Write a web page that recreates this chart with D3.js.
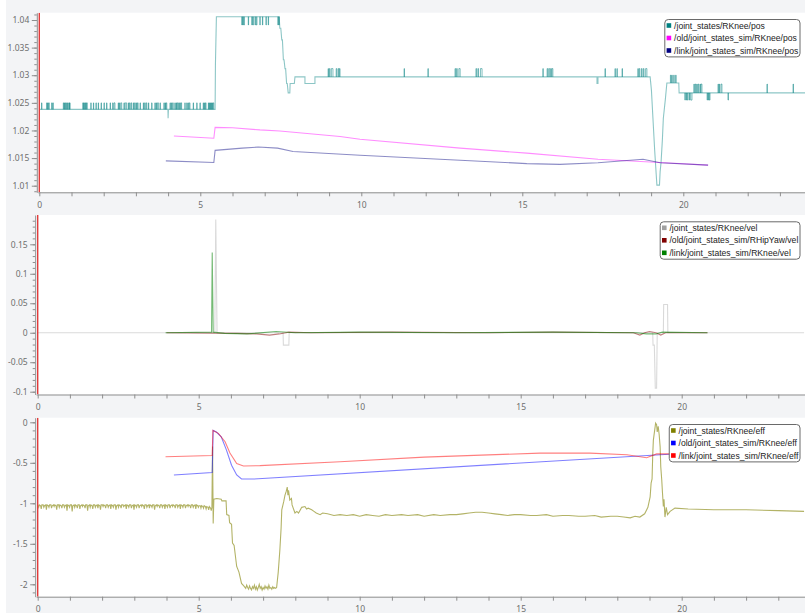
<!DOCTYPE html>
<html>
<head>
<meta charset="utf-8">
<script src="https://cdn.jsdelivr.net/npm/d3@7"></script>
<style>
  html, body { margin: 0; padding: 0; background: #fff; }
  svg { display: block; }
</style>
</head>
<body>
<div id="wrapper"></div>
<script>
// ---- data (t in s) ----
const timeTicks = [0, 5, 10, 15, 20];
const posTicks = [1.01, 1.015, 1.02, 1.025, 1.03, 1.035, 1.04];
const velTicks = [-0.1, -0.05, 0, 0.05, 0.1, 0.15];
const effTicks = [-2, -1.5, -1, -0.5, 0];

const posNames = ["/joint_states/RKnee/pos", "/old/joint_states_sim/RKnee/pos", "/link/joint_states_sim/RKnee/pos"];
const velNames = ["/joint_states/RKnee/vel", "/old/joint_states_sim/RHipYaw/vel", "/link/joint_states_sim/RKnee/vel"];
const effNames = ["/joint_states/RKnee/eff", "/old/joint_states_sim/RKnee/eff", "/link/joint_states_sim/RKnee/eff"];

const posColors = ["#008080", "#ff00ff", "#000080"];
const velColors = ["#a0a0a0", "#800000", "#008000"];
const effColors = ["#808000", "#0000ff", "#ff0000"];

// /joint_states/RKnee/pos main trace
const jsPos = [
  [0, 1.02382], [3.995, 1.02382], [4.0, 1.0222], [4.01, 1.02382], [5.46, 1.02382], [5.47, 1.032], [5.5, 1.0406],
  [7.45, 1.0406], [7.47, 1.0385], [7.5, 1.0385], [7.53, 1.0364], [7.55, 1.0364], [7.58, 1.0328], [7.6, 1.0328],
  [7.63, 1.0312], [7.65, 1.0312], [7.68, 1.0285], [7.7, 1.0285], [7.73, 1.0268], [7.78, 1.0268], [7.79, 1.0285],
  [7.92, 1.0285], [7.94, 1.0297], [8.25, 1.0297], [8.25, 1.0285], [8.56, 1.0285], [8.56, 1.0297],
  [17.32, 1.0297], [17.32, 1.0285], [17.35, 1.0285], [17.35, 1.0297], [18.97, 1.0297],
  [19.01, 1.0273], [19.06, 1.0219], [19.11, 1.0165], [19.16, 1.0119], [19.18, 1.0101], [19.26, 1.0101],
  [19.28, 1.0125], [19.31, 1.0143], [19.35, 1.0183], [19.38, 1.0222], [19.44, 1.0255], [19.49, 1.0286],
  [19.86, 1.0286], [19.87, 1.0268], [23.8, 1.0268]
];
// quick toggles of the encoder reading: [start, end]
const flickLowLevels = [1.02382, 1.025];
const flickLow = [
  [0.07, 0.08], [0.23, 0.24], [0.26, 0.27], [0.29, 0.31], [0.385, 0.395], [0.42, 0.435],
  [0.745, 0.76], [0.78, 0.79], [0.81, 0.825], [0.85, 0.86], [0.88, 0.895], [0.92, 0.935], [0.945, 0.955],
  [1.35, 1.365], [1.38, 1.39], [1.41, 1.425], [1.44, 1.455], [1.47, 1.49],
  [1.6, 1.61], [1.68, 1.69], [1.76, 1.77], [1.83, 1.84], [1.92, 1.93], [2.01, 2.02], [2.09, 2.1], [2.2, 2.21],
  [2.28, 2.29], [2.32, 2.35], [2.45, 2.46], [2.49, 2.5], [2.53, 2.56], [2.63, 2.64], [2.67, 2.71],
  [2.76, 2.77], [2.8, 2.82], [2.85, 2.87], [2.92, 2.93], [2.96, 2.98], [3.01, 3.02], [3.05, 3.07],
  [3.13, 3.14], [3.23, 3.24], [3.27, 3.29], [3.32, 3.34], [3.39, 3.4], [3.49, 3.5],
  [3.59, 3.6], [3.63, 3.64], [3.67, 3.7], [3.75, 3.76], [3.87, 3.88], [3.91, 3.92], [3.94, 3.96],
  [4.06, 4.07], [4.1, 4.11], [4.14, 4.16], [4.21, 4.22], [4.25, 4.26], [4.28, 4.3], [4.33, 4.34],
  [4.36, 4.38], [4.4, 4.42], [4.52, 4.53], [4.58, 4.59], [4.62, 4.63], [4.66, 4.68], [4.78, 4.79],
  [4.89, 4.9], [4.99, 5.0], [5.09, 5.1], [5.13, 5.14], [5.16, 5.18], [5.25, 5.26], [5.28, 5.29],
  [5.31, 5.32], [5.34, 5.35], [5.37, 5.38], [5.4, 5.42]
];
const flickHighLevels = [1.0406, 1.0391];
const flickHigh = [
  [6.29, 6.3], [6.32, 6.33], [6.35, 6.37], [6.49, 6.5], [6.6, 6.61], [6.63, 6.65], [6.7, 6.71],
  [6.74, 6.76], [6.85, 6.86], [6.93, 6.94], [7.04, 7.05], [7.11, 7.12], [7.41, 7.42], [7.44, 7.45]
];
const flickMidLevels = [1.0297, 1.0312];
const flickMid = [
  [8.97, 8.98], [9.01, 9.03], [9.07, 9.12], [9.22, 9.24], [9.28, 9.3], [9.32, 9.34],
  [11.33, 11.34], [12.07, 12.08], [12.91, 12.93], [12.96, 12.98], [13.03, 13.07],
  [13.56, 13.58], [13.62, 13.64], [13.7, 13.75], [15.64, 15.65], [15.77, 15.79], [15.82, 15.85],
  [15.88, 15.9], [15.92, 15.95], [17.57, 17.58], [17.88, 17.89], [17.94, 17.95], [18.1, 18.11],
  [18.59, 18.6], [18.63, 18.65], [18.7, 18.72], [18.76, 18.78], [18.83, 18.87]
];
const flickPostLevels = [1.0286, 1.03];
const flickPost = [[19.6, 19.62], [19.64, 19.66], [19.7, 19.72], [19.76, 19.78]];
const flickRightUpLevels = [1.0268, 1.0284];
const flickRightUp = [
  [20.33, 20.34], [20.37, 20.39], [20.42, 20.43], [20.46, 20.48], [20.52, 20.53], [20.55, 20.58],
  [21.08, 21.09], [21.12, 21.13], [21.17, 21.2], [22.6, 22.61], [23.41, 23.42]
];
const flickRightDownLevels = [1.0268, 1.0255];
const flickRightDown = [
  [20.05, 20.06], [20.09, 20.1], [20.13, 20.15], [20.19, 20.2], [20.23, 20.27],
  [20.74, 20.75], [20.78, 20.79], [20.81, 20.83], [21.39, 21.4]
];

const oldPos = [
  [4.18, 1.019], [5.42, 1.0186], [5.46, 1.02056], [6.0, 1.0205], [6.85, 1.0201], [7.47, 1.0199],
  [9.34, 1.0189], [9.96, 1.0184], [13.07, 1.0168], [15.14, 1.0159], [17.35, 1.0148], [18.97, 1.0143], [20.77, 1.01373]
];
const linkPos = [
  [3.93, 1.0145], [5.42, 1.0142], [5.46, 1.0164], [6.3, 1.0168], [6.8, 1.017], [7.4, 1.0168], [7.88, 1.0162],
  [9.96, 1.0155], [13.07, 1.0146], [15.14, 1.014], [16.17, 1.01386], [17.35, 1.01415], [18.75, 1.0148],
  [19.28, 1.01415], [20.77, 1.01373]
];

const jsVel = [
  [0, 0], [5.5, 0], [5.53, 0.192], [5.57, 0], [7.62, 0], [7.63, -0.021], [7.8, -0.021], [7.81, 0],
  [19.1, 0], [19.11, -0.021], [19.15, -0.021], [19.18, -0.094], [19.22, -0.094], [19.24, 0],
  [19.43, 0], [19.44, 0.048], [19.56, 0.048], [19.57, 0], [23.8, 0]
];
const oldVel = [
  [4.0, 0], [6.2, -0.001], [6.8, -0.002], [7.2, -0.004], [7.5, -0.002], [7.8, 0.001], [8.5, 0], [11, 0.001],
  [14, 0], [16, 0.001], [18.5, 0], [18.7, -0.004], [18.85, 0], [19.0, 0.002], [19.2, 0], [19.35, -0.004],
  [19.5, 0], [20.8, 0]
];
const linkVel = [
  [3.97, 0], [5.4, 0.001], [5.42, 0.136], [5.45, 0.001], [5.8, -0.001], [6.5, -0.002], [7.4, 0.002], [8.0, 0],
  [10, 0.001], [13, 0], [16, 0.001], [18.6, 0], [18.9, -0.002], [19.2, -0.002], [19.4, 0.001], [20.8, 0]
];

const jsEff = [
  [0.0, -1.02], [0.03, -1.05], [0.05, -1.02], [0.09, -1.03], [0.11, -1.07], [0.13, -1.02], [0.17, -1.02], [0.19, -1.05],
  [0.21, -1.03], [0.25, -1.02], [0.27, -1.08], [0.29, -1.02], [0.33, -1.03], [0.35, -1.05], [0.37, -1.02], [0.41, -1.02],
  [0.43, -1.06], [0.45, -1.03], [0.49, -1.02], [0.51, -1.04], [0.53, -1.02], [0.57, -1.03], [0.59, -1.08], [0.61, -1.02],
  [0.65, -1.02], [0.67, -1.05], [0.69, -1.02], [0.73, -1.03], [0.75, -1.06], [0.77, -1.02], [0.81, -1.02], [0.83, -1.05],
  [0.85, -1.03], [0.89, -1.02], [0.91, -1.09], [0.93, -1.02], [0.97, -1.03], [0.99, -1.05], [1.01, -1.02], [1.05, -1.02],
  [1.07, -1.1], [1.09, -1.03], [1.13, -1.02], [1.15, -1.05], [1.17, -1.02], [1.21, -1.03], [1.23, -1.06], [1.25, -1.02],
  [1.29, -1.02], [1.31, -1.07], [1.33, -1.03], [1.37, -1.02], [1.39, -1.04], [1.41, -1.02], [1.45, -1.03], [1.47, -1.06],
  [1.49, -1.02], [1.53, -1.02], [1.55, -1.09], [1.57, -1.03], [1.61, -1.02], [1.63, -1.05], [1.65, -1.02], [1.69, -1.03],
  [1.71, -1.07], [1.73, -1.02], [1.77, -1.02], [1.79, -1.05], [1.81, -1.03], [1.85, -1.02], [1.87, -1.06], [1.89, -1.02],
  [1.93, -1.03], [1.95, -1.08], [1.97, -1.02], [2.01, -1.02], [2.03, -1.04], [2.05, -1.02], [2.09, -1.03], [2.11, -1.06],
  [2.13, -1.02], [2.17, -1.02], [2.19, -1.05], [2.21, -1.03], [2.25, -1.02], [2.27, -1.07], [2.29, -1.02], [2.33, -1.03],
  [2.35, -1.05], [2.37, -1.02], [2.41, -1.02], [2.43, -1.08], [2.45, -1.03], [2.49, -1.02], [2.51, -1.05], [2.53, -1.02],
  [2.57, -1.03], [2.59, -1.06], [2.61, -1.02], [2.65, -1.02], [2.67, -1.04], [2.69, -1.03], [2.73, -1.02], [2.75, -1.07],
  [2.77, -1.02], [2.81, -1.03], [2.83, -1.05], [2.85, -1.02], [2.89, -1.02], [2.91, -1.06], [2.93, -1.03], [2.97, -1.02],
  [2.99, -1.08], [3.01, -1.02], [3.05, -1.03], [3.07, -1.05], [3.09, -1.02], [3.13, -1.02], [3.15, -1.06], [3.17, -1.03],
  [3.21, -1.02], [3.23, -1.04], [3.25, -1.02], [3.29, -1.03], [3.31, -1.07], [3.33, -1.02], [3.37, -1.02], [3.39, -1.05],
  [3.41, -1.03], [3.45, -1.02], [3.47, -1.06], [3.49, -1.02], [3.53, -1.03], [3.55, -1.05], [3.57, -1.02], [3.61, -1.02],
  [3.63, -1.08], [3.65, -1.03], [3.69, -1.02], [3.71, -1.04], [3.73, -1.02], [3.77, -1.03], [3.79, -1.06], [3.81, -1.02],
  [3.85, -1.02], [3.87, -1.05], [3.89, -1.03], [3.93, -1.02], [3.95, -1.07], [3.97, -1.02], [4.01, -1.03], [4.03, -1.05],
  [4.05, -1.02], [4.09, -1.02], [4.11, -1.06], [4.13, -1.03], [4.17, -1.02], [4.19, -1.04], [4.21, -1.02], [4.25, -1.03],
  [4.27, -1.06], [4.29, -1.02], [4.33, -1.02], [4.35, -1.05], [4.37, -1.03], [4.41, -1.02], [4.43, -1.07], [4.45, -1.02],
  [4.49, -1.03], [4.51, -1.05], [4.53, -1.02], [4.57, -1.02], [4.59, -1.06], [4.61, -1.03], [4.65, -1.02], [4.67, -1.04],
  [4.69, -1.02], [4.73, -1.03], [4.75, -1.06], [4.77, -1.02], [4.81, -1.02], [4.83, -1.05], [4.85, -1.03], [4.89, -1.02],
  [4.91, -1.07], [4.93, -1.02], [4.97, -1.03], [4.99, -1.05], [5.01, -1.03], [5.05, -1.03], [5.07, -1.06], [5.09, -1.03],
  [5.13, -1.04], [5.15, -1.06], [5.17, -1.03], [5.21, -1.04], [5.23, -1.07], [5.25, -1.04], [5.29, -1.05], [5.31, -1.08],
  [5.33, -1.04], [5.37, -1.06], [5.39, -1.09], [5.41, -1.05],
  [5.43, -0.3], [5.45, -1.25], [5.47, -0.95], [5.56, -0.94], [5.7, -0.95], [5.72, -0.97], [5.85, -0.97], [5.87, -1.14],
  [5.94, -1.15], [5.96, -1.24], [6.02, -1.26], [6.05, -1.49], [6.1, -1.52], [6.18, -1.78], [6.25, -1.85], [6.33, -1.99],
  [6.4, -2.02], [6.46, -2.05], [6.49, -2.01], [6.52, -2.04], [6.55, -2.06], [6.58, -2.02], [6.61, -2.05], [6.64, -2.07],
  [6.67, -2.03], [6.7, -2.05], [6.73, -2.01], [6.76, -2.06], [6.79, -2.03], [6.82, -2.07], [6.85, -2.04], [6.88, -2.0],
  [6.91, -2.05], [6.94, -2.03], [6.97, -2.07], [7.0, -2.04], [7.03, -2.06], [7.06, -2.02], [7.09, -2.05], [7.12, -2.03],
  [7.15, -2.06], [7.18, -2.01], [7.21, -2.05], [7.24, -2.04], [7.27, -2.06], [7.3, -2.03], [7.33, -2.05], [7.36, -2.04],
  [7.39, -2.05], [7.42, -2.04], [7.47, -1.85], [7.52, -1.58], [7.56, -1.3], [7.58, -1.08], [7.64, -0.98],
  [7.68, -0.9], [7.72, -0.85], [7.75, -0.8], [7.77, -0.9], [7.79, -0.84], [7.83, -0.96], [7.88, -0.94], [7.9, -1.02],
  [7.99, -1.12], [8.05, -1.1], [8.1, -1.12], [8.2, -1.05], [8.3, -1.04], [8.35, -1.07], [8.4, -1.06], [8.51, -1.08],
  [8.58, -1.1], [8.65, -1.12], [8.77, -1.14], [8.85, -1.12], [9.0, -1.13], [9.2, -1.15], [9.39, -1.14],
  [9.6, -1.15], [9.8, -1.14], [10.0, -1.16], [10.2, -1.14], [10.4, -1.15], [10.6, -1.16], [10.8, -1.14], [11.0, -1.15],
  [11.3, -1.14], [11.5, -1.15], [11.8, -1.14], [12.0, -1.16], [12.3, -1.14], [12.5, -1.15], [12.8, -1.14], [13.0, -1.14],
  [13.2, -1.13], [13.4, -1.12], [13.6, -1.11], [13.8, -1.11], [14.0, -1.12], [14.2, -1.13], [14.4, -1.14], [14.6, -1.15],
  [14.8, -1.14], [15.0, -1.14], [15.3, -1.15], [15.5, -1.15], [15.8, -1.14], [16.0, -1.16], [16.3, -1.15], [16.5, -1.15],
  [16.8, -1.16], [17.0, -1.16], [17.3, -1.15], [17.5, -1.17], [17.8, -1.16], [18.0, -1.16], [18.2, -1.17], [18.4, -1.18],
  [18.55, -1.16], [18.7, -1.17], [18.85, -1.13], [18.95, -1.05],
  [19.02, -0.92], [19.05, -0.75], [19.08, -0.7], [19.1, -0.4], [19.12, -0.22], [19.16, -0.1], [19.19, -0.01],
  [19.22, -0.03], [19.24, -0.12], [19.27, -0.05], [19.3, -0.15], [19.33, -0.3], [19.35, -0.55], [19.38, -0.71],
  [19.4, -0.85], [19.43, -1.04], [19.45, -0.95], [19.48, -1.17], [19.52, -1.05], [19.56, -1.14], [19.64, -1.1],
  [19.79, -1.06], [20.2, -1.07], [21, -1.08], [22, -1.08], [23, -1.09], [23.8, -1.1]
];
const oldEff = [
  [4.23, -0.65], [5.42, -0.62], [5.45, -0.1], [5.55, -0.12], [5.7, -0.18], [5.86, -0.34], [6.02, -0.53],
  [6.18, -0.65], [6.33, -0.7], [6.7, -0.7], [19.33, -0.4], [20.8, -0.37]
];
const linkEff = [
  [3.97, -0.425], [5.42, -0.41], [5.44, -0.1], [5.61, -0.136], [5.82, -0.24], [5.97, -0.38], [6.18, -0.51],
  [6.39, -0.54], [6.9, -0.535], [9.39, -0.487], [12.0, -0.43], [15.6, -0.38], [17.15, -0.38], [18.3, -0.4],
  [18.91, -0.437], [19.22, -0.39], [20.8, -0.39]
];

// ---- layout ----
const W = 805, H = 613;
const panels = [
  { top: 12.7, bottom: 192.3, x0: 39.3, ya: [1.01, 185.7], yb: [1.04, 20], majors: posTicks, minor: 0.001,
    names: posNames, colors: posColors, lines: [jsPos, oldPos, linkPos], alpha: [0.45, 0.45, 0.45],
    flicks: [[flickLow, flickLowLevels], [flickHigh, flickHighLevels], [flickMid, flickMidLevels],
             [flickPost, flickPostLevels], [flickRightUp, flickRightUpLevels], [flickRightDown, flickRightDownLevels]] },
  { top: 215, bottom: 394.5, x0: 37.7, ya: [-0.1, 391.7], yb: [0.15, 244.3], majors: velTicks, minor: 0.01,
    names: velNames, colors: velColors, lines: [jsVel, oldVel, linkVel], alpha: [0.4, 0.5, 0.55], flicks: [] },
  { top: 417.7, bottom: 596.7, x0: 37.7, ya: [-2, 584.3], yb: [0, 422.3], majors: effTicks, minor: 0.1,
    names: effNames, colors: effColors, lines: [jsEff, oldEff, linkEff], alpha: [0.6, 0.5, 0.5], flicks: [] }
];

const fmt = d => String(+d.toFixed(3));

const svg = d3.select("#wrapper").append("svg")
  .attr("width", W)
  .attr("height", H);

svg.append("rect")
  .attr("x", 6).attr("y", 0)
  .attr("width", W - 6).attr("height", H)
  .attr("fill", "#f3f4f6");

panels.forEach((p, i) => {
  const left = p.x0 - 1.5;
  const xBase = d3.scaleLinear().domain([0, 20]).range([p.x0, p.x0 + 644]);
  const x = xBase.copy().domain([xBase.invert(left), xBase.invert(W)]).range([left, W]);
  const yBase = d3.scaleLinear().domain([p.ya[0], p.yb[0]]).range([p.ya[1], p.yb[1]]);
  const y = yBase.copy().domain([yBase.invert(p.bottom), yBase.invert(p.top)]).range([p.bottom, p.top]);

  const g = svg.append("g");
  g.append("rect")
    .attr("x", left).attr("y", p.top)
    .attr("width", W - left).attr("height", p.bottom - p.top)
    .attr("fill", "#fff");

  g.append("clipPath").attr("id", "clip" + i)
    .append("rect")
    .attr("x", left).attr("y", p.top)
    .attr("width", W - left).attr("height", p.bottom - p.top);

  const plot = g.append("g").attr("clip-path", "url(#clip" + i + ")");
  const line = d3.line().x(d => x(d[0])).y(d => y(d[1]));

  p.lines.forEach((data, k) => {
    plot.append("path")
      .datum(data)
      .attr("d", line)
      .attr("fill", "none")
      .attr("stroke", p.colors[k])
      .attr("stroke-opacity", p.alpha[k])
      .attr("stroke-width", 1.1);
  });

  // encoder flicker: every toggle its own path so dense bursts build up
  p.flicks.forEach(([spans, lv]) => {
    plot.append("g")
      .selectAll("path")
      .data(spans)
      .enter()
      .append("path")
      .attr("d", d => "M" + x(d[0]) + "," + y(lv[0]) + "V" + y(lv[1]) + "H" + x(d[1]) + "V" + y(lv[0]))
      .attr("fill", "none")
      .attr("stroke", p.colors[0])
      .attr("stroke-opacity", 0.5)
      .attr("stroke-width", 1);
  });

  // time cursor at 0
  plot.append("line")
    .attr("x1", x(0)).attr("x2", x(0))
    .attr("y1", p.top).attr("y2", p.bottom)
    .attr("stroke", "#e23b3b")
    .attr("stroke-width", 1.4);

  // x axis
  g.append("g")
    .attr("transform", "translate(0," + p.bottom + ")")
    .call(d3.axisBottom(x)
      .tickValues(d3.range(0, 24))
      .tickSize(4)
      .tickSizeOuter(0)
      .tickPadding(5.5)
      .tickFormat(d => timeTicks.includes(d) ? fmt(d) : ""));

  // y axis: minor then major
  const [lo, hi] = y.domain();
  const minors = d3.range(Math.ceil(lo / p.minor - 1e-6), Math.floor(hi / p.minor + 1e-6) + 1)
    .map(k => +(k * p.minor).toFixed(4));
  const yMinor = g.append("g")
    .attr("transform", "translate(" + (p.x0 - 2.5) + ",0)")
    .call(d3.axisLeft(y).tickValues(minors).tickSize(2.5).tickSizeOuter(0).tickFormat(""));
  yMinor.select(".domain").remove();
  g.append("g")
    .attr("transform", "translate(" + (p.x0 - 2.5) + ",0)")
    .call(d3.axisLeft(y).tickValues(p.majors).tickSize(5).tickSizeOuter(0).tickPadding(2.5).tickFormat(fmt));

  g.selectAll(".domain").attr("stroke", "#8e8e8e");
  g.selectAll(".tick line").attr("stroke", "#8e8e8e");
  g.selectAll(".tick text")
    .attr("fill", "#6e6e6e")
    .style("font-family", "'Noto Sans', 'DejaVu Sans', sans-serif")
    .style("font-size", "8.5px");

  // legend, right-aligned at x=800
  const lg = g.append("g");
  const box = lg.append("rect")
    .attr("fill", "#fff")
    .attr("stroke", "#6a6a6a")
    .attr("stroke-width", 1)
    .attr("rx", 3.5);
  const rows = lg.selectAll("g.row")
    .data(p.names)
    .enter()
    .append("g")
    .attr("class", "row")
    .attr("transform", (d, k) => "translate(0," + (k * 12.5) + ")");
  rows.append("rect")
    .attr("x", 1.8).attr("y", -2.3)
    .attr("width", 4.6).attr("height", 4.6)
    .attr("fill", (d, k) => p.colors[k]);
  const texts = rows.append("text")
    .attr("x", 9.3)
    .attr("dy", "0.35em")
    .attr("fill", "#222")
    .style("font-family", "'Liberation Sans', Arial, sans-serif")
    .style("font-size", "8.6px")
    .text(d => d);
  let tw = 0;
  texts.each(function () { tw = Math.max(tw, this.getComputedTextLength()); });
  const bw = tw + 11;
  const bx = 800 - bw;
  const by = p.top + 6.8;
  box.attr("x", 0).attr("y", -6).attr("width", bw).attr("height", 37.4);
  lg.attr("transform", "translate(" + bx + "," + (by + 6) + ")");
});
</script>
</body>
</html>
